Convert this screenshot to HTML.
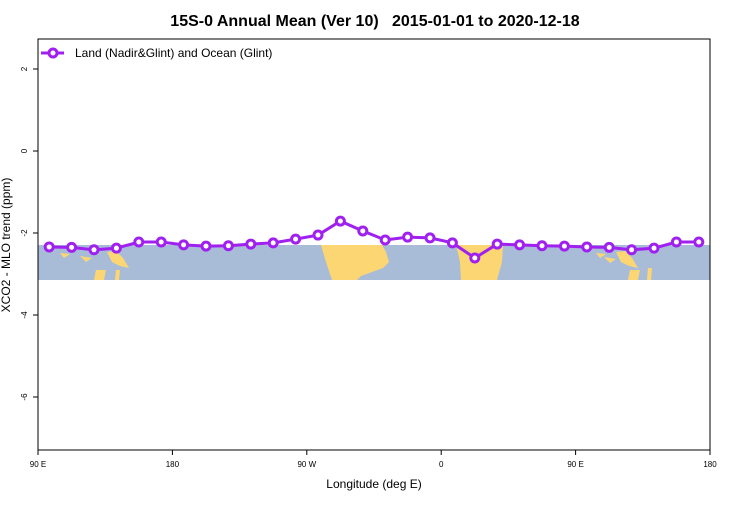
<!DOCTYPE html>
<html><head><meta charset="utf-8"><style>
body{margin:0;background:#fff;}
svg text{font-family:"Liberation Sans",sans-serif;}
</style></head><body>
<svg id="chart" width="750" height="500" xmlns="http://www.w3.org/2000/svg">
<text x="375" y="26" text-anchor="middle" font-size="16" font-weight="bold">15S-0 Annual Mean (Ver 10)&#160;&#160; 2015-01-01 to 2020-12-18</text>
<g id="map">
<rect x="38" y="245" width="672" height="35" fill="#a8bcd8"/>
<polygon fill="#fdd674" points="321,245 382,245 386,252 389,262 383,268 372,272 361,276 357,280 332,280 326,262"/>
<polygon fill="#fdd674" points="456,245 503,245 502,262 497,280 461,280 460,262"/>
<polygon fill="#fdd674" points="107,252 116,251 123,258 129,268 120,266 112,262"/>
<polygon fill="#fdd674" points="96,270 106,270 104,280 94,280"/>
<polygon fill="#fdd674" points="60,253 70,254 64,258"/>
<polygon fill="#fdd674" points="80,256 92,258 86,262"/>
<polygon fill="#fdd674" points="116,270 120,270 119,280 115,280"/>
<polygon fill="#fdd674" points="616,252 625,251 632,258 638,268 629,266 621,262"/>
<polygon fill="#fdd674" points="630,270 640,270 638,280 628,280"/>
<polygon fill="#fdd674" points="596,253 606,254 600,258"/>
<polygon fill="#fdd674" points="604,257 616,259 610,263"/>
<polygon fill="#fdd674" points="648,268 652,268 651,280 647,280"/>
</g>
<rect x="38" y="39" width="672" height="411" fill="none" stroke="#000" stroke-width="1"/>
<g id="axes"></g>
<g id="series"></g>
<g>
<line x1="41" y1="53" x2="64" y2="53" stroke="#a020f0" stroke-width="3"/>
<circle cx="53" cy="53" r="4" fill="#fff" stroke="#a020f0" stroke-width="3"/>
<text x="75" y="57" font-size="12">Land (Nadir&amp;Glint) and Ocean (Glint)</text>
</g>
<text x="374" y="488" text-anchor="middle" font-size="12">Longitude (deg E)</text>
<text transform="translate(10,245) rotate(-90)" text-anchor="middle" font-size="12">XCO2 - MLO trend (ppm)</text>
</svg>
<script>
const lons=[97.5,112.5,127.5,142.5,157.5,172.5,187.5,202.5,217.5,232.5,247.5,262.5,277.5,292.5,307.5,322.5,337.5,352.5,367.5,382.5,397.5,412.5,427.5,442.5,457.5,472.5,487.5,502.5,517.5,532.5];
const values=[-2.34,-2.35,-2.41,-2.37,-2.22,-2.22,-2.29,-2.32,-2.31,-2.27,-2.24,-2.15,-2.05,-1.71,-1.95,-2.17,-2.10,-2.12,-2.24,-2.61,-2.27,-2.29,-2.31,-2.32,-2.34,-2.35,-2.41,-2.37,-2.22,-2.22];
const xTicks=[90,180,270,360,450,540];
const xTickLabels=["90 E","180","90 W","0","90 E","180"];
const yTicks=[2,0,-2,-4,-6];
const NS="http://www.w3.org/2000/svg";
function xs(l){return 38+(l-90)/450*672;}
function ys(v){return 151-v*41;}
const ax=document.getElementById('axes');
function mk(t,a,p){const e=document.createElementNS(NS,t);for(const k in a)e.setAttribute(k,a[k]);p.appendChild(e);return e;}
xTicks.forEach((t,i)=>{
 const l=mk('line',{x1:xs(t),x2:xs(t),y1:450,y2:455,stroke:'#000'},ax);
 
 
 const tx=mk('text',{x:xs(t),y:467,'text-anchor':'middle','font-size':8},ax);tx.textContent=xTickLabels[i];
 
 
});
yTicks.forEach(t=>{
 const l=mk('line',{x1:33,x2:38,y1:ys(t),y2:ys(t),stroke:'#000'},ax);
 
 
 const tx=mk('text',{x:0,y:0,'text-anchor':'middle','font-size':8,transform:`translate(27,${ys(t)}) rotate(-90)`},ax);tx.textContent=String(t);
 
 
});
const sg=document.getElementById('series');
const pl=mk('polyline',{points:lons.map((l,i)=>xs(l)+','+ys(values[i])).join(' '),fill:'none',stroke:'#a020f0','stroke-width':3},sg);


lons.forEach((l,i)=>{
 const c=mk('circle',{cx:xs(l),cy:ys(values[i]),r:4,fill:'#fff',stroke:'#a020f0','stroke-width':3},sg);
 
 
});
</script>
</body></html>
